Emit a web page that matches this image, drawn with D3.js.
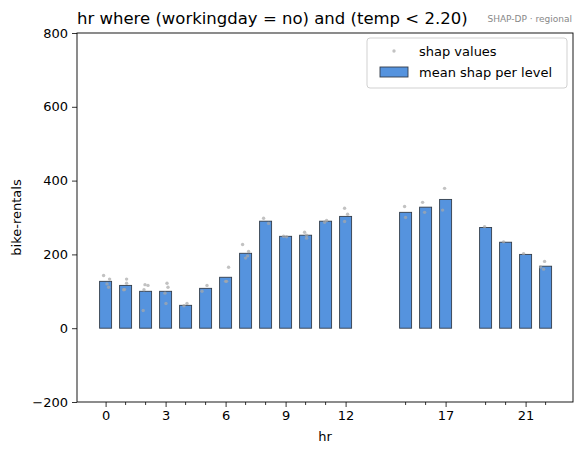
<!DOCTYPE html>
<html>
<head>
<meta charset="utf-8">
<script src="https://cdn.jsdelivr.net/npm/d3@7"></script>
<style>
  body { margin: 0; background: #fff; }
  text { font-family: "DejaVu Sans", sans-serif; }
</style>
</head>
<body>
<svg id="chart" width="583" height="455"></svg>
<script>
// levels of hr and the mean shap per level
var hrLevels = [0, 1, 2, 3, 4, 5, 6, 7, 8, 9, 10, 11, 12, 15, 16, 17, 19, 20, 21, 22];
var meanShap = [127, 116, 100, 100, 62, 108, 138, 203, 290, 249, 252, 290, 303, 314, 328, 349, 273, 233, 200, 168];

// individual shap values (x is hr plus a little jitter)
var pointX = [-0.1, 0.2, 0.07, 0.15, 1.05, 1.05, 0.95, 0.9, 1.97, 2.12, 1.92, 1.88,
  3.07, 3.12, 2.97, 3.02, 4.07, 3.92, 5.07, 4.82, 6.15, 6.0, 6.05, 6.85, 7.15, 7.1, 7.0,
  7.9, 8.15, 8.9, 9.05, 9.95, 10.05, 10.05, 11.05, 10.95, 11.95, 12.1, 11.95,
  14.95, 15.0, 15.85, 15.95, 16.95, 16.85, 18.95, 19.9, 20.9, 21.95, 21.75, 21.9];
var pointY = [143, 133, 120, 111, 133, 122, 105, 104, 118, 116, 104, 48,
  122, 111, 95, 67, 67, 61, 116, 100, 165, 127, 127, 227, 208, 196, 190,
  298, 284, 249, 248, 260, 252, 244, 292, 287, 325, 309, 289,
  330, 300, 341, 314, 379, 320, 275, 234, 202, 181, 166, 160];

var yTicks = [-200, 0, 200, 400, 600, 800];
var xMajor = [0, 3, 6, 9, 12, 17, 21];

var svg = d3.select("#chart");
var plotLeft = 77, plotRight = 573, plotTop = 33, plotBottom = 402;

var x = d3.scaleLinear().domain([-1.43, 23.37]).range([plotLeft, plotRight]);
var y = d3.scaleLinear().domain([-200, 800]).range([plotBottom, plotTop]);

// bars
svg.append("g").selectAll("rect")
  .data(hrLevels)
  .enter()
  .append("rect")
  .attr("x", function(d) { return x(d - 0.3); })
  .attr("width", x(0.6) - x(0))
  .attr("y", function(d, i) { return y(meanShap[i]); })
  .attr("height", function(d, i) { return y(0) - y(meanShap[i]); })
  .style("fill", "#5593de")
  .style("stroke", "#333d4a")
  .style("stroke-width", 0.9);

// shap points
svg.append("g").selectAll("circle")
  .data(pointX)
  .enter()
  .append("circle")
  .attr("cx", function(d) { return x(d); })
  .attr("cy", function(d, i) { return y(pointY[i]); })
  .attr("r", 1.7)
  .style("fill", "#a8a8a8")
  .style("opacity", 0.7);

// axes
var yAxis = d3.axisLeft(y).tickValues(yTicks).tickSize(5).tickPadding(4)
  .tickFormat(function(d) { return d < 0 ? "\u2212" + Math.abs(d) : d; });
var yg = svg.append("g").attr("transform", "translate(" + plotLeft + ",0)").call(yAxis);

var xAxis = d3.axisBottom(x).tickValues(xMajor).tickSize(5).tickPadding(4);
var xg = svg.append("g").attr("transform", "translate(0," + plotBottom + ")").call(xAxis);

var minor = hrLevels.filter(function(d) { return xMajor.indexOf(d) < 0; });
svg.append("g").selectAll("line")
  .data(minor)
  .enter()
  .append("line")
  .attr("x1", function(d) { return x(d); })
  .attr("x2", function(d) { return x(d); })
  .attr("y1", plotBottom)
  .attr("y2", plotBottom + 3)
  .style("stroke", "#000")
  .style("stroke-width", 0.8);

[yg, xg].forEach(function(g) {
  g.select(".domain").remove();
  g.selectAll(".tick line").style("stroke", "#000").style("stroke-width", 0.8);
  g.selectAll(".tick text").style("font-size", "13px").style("fill", "#000")
    .style("font-family", "DejaVu Sans, sans-serif");
});

// frame
svg.append("rect")
  .attr("x", plotLeft).attr("y", plotTop)
  .attr("width", plotRight - plotLeft).attr("height", plotBottom - plotTop)
  .style("fill", "none").style("stroke", "#000").style("stroke-width", 0.9);

// titles
svg.append("text")
  .attr("x", plotLeft).attr("y", 24)
  .style("font-size", "16.5px")
  .text("hr where (workingday = no) and (temp < 2.20)");
svg.append("text")
  .attr("x", 572).attr("y", 22)
  .attr("text-anchor", "end")
  .style("font-size", "9px")
  .style("fill", "#888")
  .text("SHAP-DP \u00b7 regional");

svg.append("text")
  .attr("x", (plotLeft + plotRight) / 2).attr("y", 441)
  .attr("text-anchor", "middle")
  .style("font-size", "13px")
  .text("hr");
svg.append("text")
  .attr("transform", "translate(21," + (plotTop + plotBottom) / 2 + ") rotate(-90)")
  .attr("text-anchor", "middle")
  .style("font-size", "13px")
  .text("bike-rentals");

// legend
var legend = svg.append("g").attr("transform", "translate(367,38)");
legend.append("rect")
  .attr("width", 200).attr("height", 50).attr("rx", 3)
  .style("fill", "#fff").style("fill-opacity", 0.8)
  .style("stroke", "#ccc").style("stroke-width", 0.9);
legend.append("circle")
  .attr("cx", 27).attr("cy", 13).attr("r", 1.7)
  .style("fill", "#a8a8a8").style("opacity", 0.7);
legend.append("text")
  .attr("x", 52).attr("y", 17.5)
  .style("font-size", "13px")
  .text("shap values");
legend.append("rect")
  .attr("x", 13).attr("y", 29).attr("width", 28).attr("height", 10)
  .style("fill", "#5593de").style("stroke", "#333d4a").style("stroke-width", 0.9);
legend.append("text")
  .attr("x", 52).attr("y", 39)
  .style("font-size", "13px")
  .text("mean shap per level");
</script>
</body>
</html>
